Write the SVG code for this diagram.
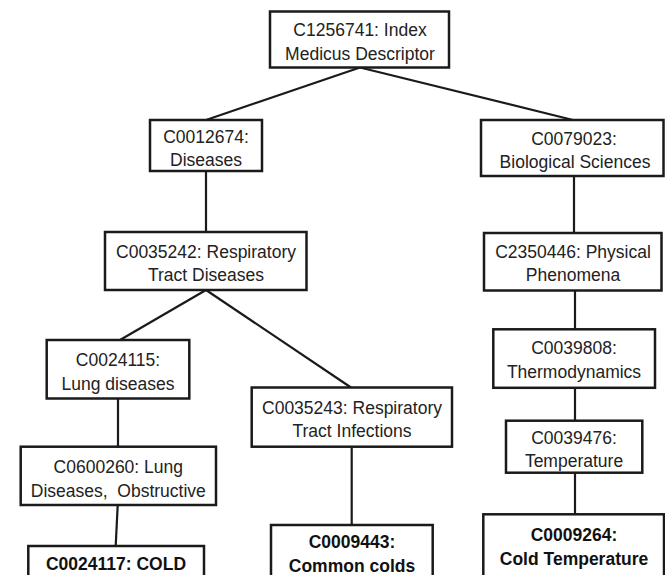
<svg xmlns="http://www.w3.org/2000/svg" width="665" height="575" viewBox="0 0 665 575">
<style>
.box{fill:#fff;stroke:#1a1a1a;stroke-width:2.5}
.lbl{font-family:"Liberation Sans",Arial,sans-serif;font-size:17.5px;fill:#222;text-anchor:middle}
.b{font-weight:bold;fill:#111}
.edge{stroke:#1a1a1a;stroke-width:2.2;fill:none}
</style>
<rect width="665" height="575" fill="#fff"/>
<g id="connectors">
<line class="edge" x1="360" y1="67.5" x2="206" y2="120"/>
<line class="edge" x1="360" y1="67.5" x2="573" y2="120"/>
<line class="edge" x1="206" y1="171" x2="206" y2="232"/>
<line class="edge" x1="574" y1="176" x2="574" y2="233"/>
<line class="edge" x1="206" y1="290" x2="120" y2="340"/>
<line class="edge" x1="206" y1="290" x2="351" y2="387.5"/>
<line class="edge" x1="118" y1="398.5" x2="118" y2="446.7"/>
<line class="edge" x1="117.7" y1="505" x2="115.7" y2="546"/>
<line class="edge" x1="351.7" y1="446.7" x2="351.7" y2="525"/>
<line class="edge" x1="575" y1="290" x2="575" y2="329.3"/>
<line class="edge" x1="575" y1="388" x2="575" y2="420.7"/>
<line class="edge" x1="575" y1="472.7" x2="575" y2="514.3"/>
</g>
<g id="n_root">
<rect class="box" x="270" y="11.5" width="179" height="56"/>
<text class="lbl" x="360" y="36">C1256741: Index</text>
<text class="lbl" x="360" y="59.5">Medicus Descriptor</text>
</g>
<g id="n_diseases">
<rect class="box" x="150" y="120" width="112" height="51"/>
<text class="lbl" x="206" y="143">C0012674:</text>
<text class="lbl" x="206" y="166">Diseases</text>
</g>
<g id="n_bio">
<rect class="box" x="481" y="120" width="182.5" height="56"/>
<text class="lbl" x="574" y="145">C0079023:</text>
<text class="lbl" x="575" y="168">Biological Sciences</text>
</g>
<g id="n_resp">
<rect class="box" x="105" y="232" width="201.5" height="58"/>
<text class="lbl" x="206" y="258">C0035242: Respiratory</text>
<text class="lbl" x="206" y="281">Tract Diseases</text>
</g>
<g id="n_phys">
<rect class="box" x="484" y="233" width="177.5" height="57.5"/>
<text class="lbl" x="573" y="258">C2350446: Physical</text>
<text class="lbl" x="573" y="281">Phenomena</text>
</g>
<g id="n_lung">
<rect class="box" x="46.7" y="340" width="142.6" height="58.5"/>
<text class="lbl" x="118" y="366">C0024115:</text>
<text class="lbl" x="118" y="390">Lung diseases</text>
</g>
<g id="n_infect">
<rect class="box" x="251.7" y="387.5" width="200.3" height="59.2"/>
<text class="lbl" x="352" y="414">C0035243: Respiratory</text>
<text class="lbl" x="352" y="437">Tract Infections</text>
</g>
<g id="n_obstr">
<rect class="box" x="20.7" y="446.7" width="195.3" height="58.3"/>
<text class="lbl" x="118.3" y="473">C0600260: Lung</text>
<text class="lbl" x="118.3" y="496.5">Diseases,&#160; Obstructive</text>
</g>
<g id="n_cold">
<rect class="box" x="28.3" y="546" width="175.7" height="50"/>
<text class="lbl b" x="116" y="569.5">C0024117: COLD</text>
</g>
<g id="n_common">
<rect class="box" x="271" y="525" width="161.7" height="70"/>
<text class="lbl b" x="352" y="547.5">C0009443:</text>
<text class="lbl b" x="352" y="571.5">Common colds</text>
</g>
<g id="n_thermo">
<rect class="box" x="493.3" y="329.3" width="161.7" height="58.5"/>
<text class="lbl" x="574" y="354">C0039808:</text>
<text class="lbl" x="574" y="378">Thermodynamics</text>
</g>
<g id="n_temp">
<rect class="box" x="506" y="420.7" width="136.3" height="52"/>
<text class="lbl" x="574" y="443.5">C0039476:</text>
<text class="lbl" x="574" y="466.5">Temperature</text>
</g>
<g id="n_coldtemp">
<rect class="box" x="483.3" y="514.3" width="180.7" height="80"/>
<text class="lbl b" x="574" y="541">C0009264:</text>
<text class="lbl b" x="574" y="565">Cold Temperature</text>
</g>
</svg>
